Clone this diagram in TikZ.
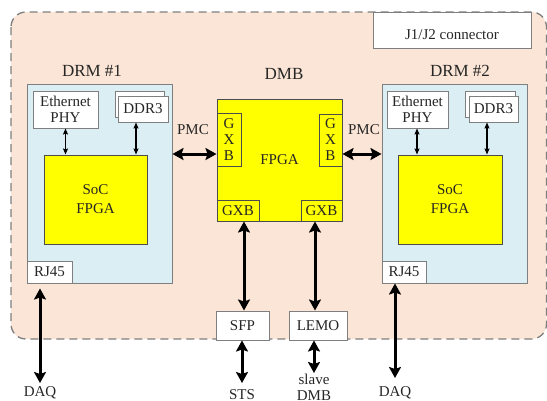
\documentclass[tikz,border=0pt]{standalone}
\usepackage{fontspec}
\setmainfont{Liberation Serif}
\usetikzlibrary{arrows.meta}
\definecolor{peach}{HTML}{FBE5D6}
\definecolor{lblue}{HTML}{DAEEF3}
\definecolor{ylw}{HTML}{FFFF00}
\definecolor{edge}{HTML}{7F7F7F}
\definecolor{txt}{HTML}{262626}
\tikzset{
  base/.style={draw=edge, line width=1pt, inner sep=0pt, text=txt, align=center, font=\fontsize{15}{16}\selectfont},
  wbox/.style={base, fill=white},
  ybox/.style={base, fill=ylw, draw=black!70},
  bbox/.style={base, fill=lblue},
  lbl/.style={text=txt, inner sep=0pt, align=center, font=\fontsize{15}{16}\selectfont},
  biglbl/.style={text=txt, inner sep=0pt, font=\fontsize{17}{18}\selectfont},
  bigarrow/.style={line width=3pt, black, {Stealth[length=11pt,width=12pt,inset=2pt]}-{Stealth[length=11pt,width=12pt,inset=2pt]}},
  smallarrow/.style={line width=1.1pt, black, {Stealth[length=6pt,width=5pt,inset=1pt]}-{Stealth[length=6pt,width=5pt,inset=1pt]}},
}
\begin{document}
\begin{tikzpicture}[x=1pt,y=-1pt]
\useasboundingbox (0,0) rectangle (547,400);
% outer dashed region
\draw[fill=peach, draw=edge, line width=1.3pt, dash pattern=on 8pt off 5pt, rounded corners=15pt] (11,12) rectangle (546.5,339);
\node[wbox, minimum width=158pt, minimum height=36pt, text height=18pt, text depth=0pt] (j12) at (452,30) {J1/J2 connector};

% DRM #1
\node[biglbl] (drm1lbl) at (92,71) {DRM \#1};
\node[bbox, minimum width=145pt, minimum height=199pt] (drm1) at (99.5,183.5) {};
\node[wbox, minimum width=65pt, minimum height=37pt] (eth1) at (65.5,109.5) {Ethernet\\PHY};
\node[wbox, minimum width=49pt, minimum height=26pt] (ddr1b) at (139.5,104) {};
\node[wbox, minimum width=50pt, minimum height=26pt] (ddr1) at (143,109) {DDR3};
\node[ybox, minimum width=103pt, minimum height=89pt] (soc1) at (95.5,199.5) {SoC\\[3pt]FPGA};
\node[wbox, minimum width=45pt, minimum height=22pt] (rj1) at (49.5,272) {RJ45};
\draw[smallarrow] (eth1.south) -- (eth1.south |- soc1.north);
\draw[smallarrow] (ddr1.south -| 136,0) -- (soc1.north -| 136,0);

% DMB
\node[biglbl] (dmblbl) at (284,74) {DMB};
\node[ybox, minimum width=125pt, minimum height=122pt] (fpga) at (279.5,160) {FPGA};
\node[ybox, minimum width=24pt, minimum height=53pt] (gxbl) at (229,139.5) {G\\X\\B};
\node[ybox, minimum width=23pt, minimum height=52pt] (gxbr) at (330.5,140) {G\\X\\B};
\node[ybox, minimum width=42pt, minimum height=21pt] (gxbbl) at (238,210.5) {GXB};
\node[ybox, minimum width=41pt, minimum height=21pt] (gxbbr) at (321.5,210.5) {GXB};
\node[wbox, minimum width=53pt, minimum height=29pt] (sfp) at (242.5,325.5) {SFP};
\node[wbox, minimum width=58pt, minimum height=29pt] (lemo) at (318,325.5) {LEMO};

% DRM #2
\node[biglbl] (drm2lbl) at (460,71) {DRM \#2};
\node[bbox, minimum width=145pt, minimum height=199pt] (drm2) at (454.5,183.5) {};
\node[wbox, minimum width=61pt, minimum height=37pt] (eth2) at (417.5,109.5) {Ethernet\\PHY};
\node[wbox, minimum width=50pt, minimum height=26pt] (ddr2b) at (490,104) {};
\node[wbox, minimum width=49pt, minimum height=26pt] (ddr2) at (493.5,109) {DDR3};
\node[ybox, minimum width=104pt, minimum height=89pt] (soc2) at (450,199.5) {SoC\\[3pt]FPGA};
\node[wbox, minimum width=44pt, minimum height=22pt] (rj2) at (404,272) {RJ45};
\draw[smallarrow] (eth2.south -| 417,0) -- (soc2.north -| 417,0);
\draw[smallarrow] (ddr2.south -| 487,0) -- (soc2.north -| 487,0);

% PMC links
\node[lbl] (pmc1) at (193,130) {PMC};
\node[lbl] (pmc2) at (364,130) {PMC};
\draw[bigarrow] (drm1.east |- 0,154) -- (gxbl.west |- 0,154);
\draw[bigarrow] (gxbr.east |- 0,154) -- (drm2.west |- 0,154);

% DMB links
\draw[bigarrow] (gxbbl.south -| 244,0) -- (sfp.north -| 244,0);
\draw[bigarrow] (gxbbr.south -| 315,0) -- (lemo.north -| 315,0);
\coordinate (stsend) at (242,383);
\node[lbl, anchor=north] (sts) at (242,389) {STS};
\draw[bigarrow] (sfp.south -| stsend) -- (stsend);
\coordinate (slend) at (314,373);
\node[lbl, anchor=north] (slave) at (314,374) {slave\\DMB};
\draw[bigarrow] (lemo.south -| slend) -- (slend);

% DAQ
\coordinate (daq1end) at (40,383);
\node[lbl, anchor=north] (daq1) at (40,386) {DAQ};
\draw[bigarrow, shorten <=5pt] (rj1.south -| daq1end) -- (daq1end);
\coordinate (daq2end) at (395,378);
\node[lbl, anchor=north] (daq2) at (395,386) {DAQ};
\draw[bigarrow] (rj2.south -| daq2end) -- (daq2end);
\end{tikzpicture}
\end{document}
